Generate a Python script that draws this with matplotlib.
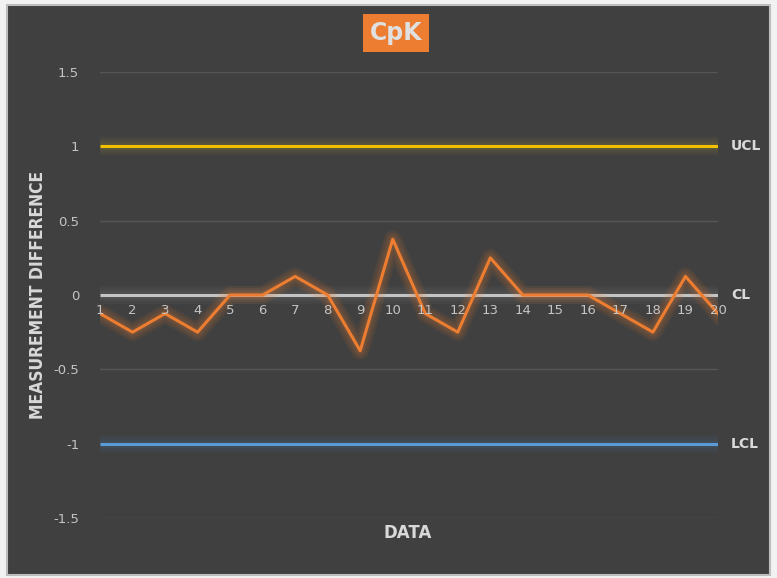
import matplotlib.pyplot as plt
import matplotlib.patheffects as pe
from matplotlib.patches import Rectangle

# data
samples = list(range(1, 21))
diff = [-0.125, -0.25, -0.125, -0.25, 0, 0, 0.125, 0, -0.375, 0.375,
        -0.125, -0.25, 0.25, 0, 0, 0, -0.125, -0.25, 0.125, -0.125]
ucl = 1.0
cl = 0.0
lcl = -1.0
yticks = [-1.5, -1, -0.5, 0, 0.5, 1, 1.5]
ytick_labels = ['-1.5', '-1', '-0.5', '0', '0.5', '1', '1.5']

W, H = 777, 578
fig = plt.figure(figsize=(W / 100, H / 100), dpi=100)
fig.patch.set_facecolor('#f2f2f2')
bg = Rectangle((7 / W, 3 / H), 763 / W, 570 / H, transform=fig.transFigure,
               facecolor='#404040', edgecolor='#bdbdbd', lw=1.5, zorder=-10)
fig.patches.append(bg)

ax = fig.add_axes([100 / W, 1 - 518 / H, 618 / W, 446 / H])
ax.set_facecolor('none')
ax.set_zorder(5)
ax.set_xlim(1, 20)
ax.set_ylim(-1.5, 1.5)

for y in [1.5, 0.5, -0.5, -1.5]:
    ax.axhline(y, color='#555555', lw=1, zorder=1)


def glow(c, a=0.07):
    # soft halo: a few wide, faint strokes under the line
    return [pe.Stroke(linewidth=w, foreground=c, alpha=a) for w in (13, 10, 7, 5)] + [pe.Normal()]


ax.plot([1, 20], [ucl, ucl], color='#f2c200', lw=2.2, zorder=3, path_effects=glow('#b8a030', 0.06), solid_capstyle='butt')
ax.plot([1, 20], [cl, cl], color='#c4c4c4', lw=2.2, zorder=3, path_effects=glow('#8a8a8a', 0.06), solid_capstyle='butt')
ax.plot([1, 20], [lcl, lcl], color='#5b9bd5', lw=2.2, zorder=3, path_effects=glow('#4a7aaa', 0.06), solid_capstyle='butt')
ax.plot(samples, diff, color='#ed7d31', lw=2.2, zorder=4, path_effects=glow('#ed7d31', 0.08))

for s in ax.spines.values():
    s.set_visible(False)
ax.set_yticks(yticks)
ax.set_yticklabels(ytick_labels)
ax.tick_params(axis='y', length=0, pad=15, colors='#c4c4c4', labelsize=9.5)
ax.set_xticks([])
for s in samples:
    ax.text(s, -0.105, str(s), ha='center', va='center', color='#c4c4c4', fontsize=9.5, zorder=5)

# labels on right
for y, t in [(ucl, 'UCL'), (cl, 'CL'), (lcl, 'LCL')]:
    ax.text(20.4, y, t, ha='left', va='center', color='#d9d9d9', fontsize=10, fontweight='bold')

fig.text(396 / W, 1 - 33 / H, 'CpK', ha='center', va='center', color='#e0e0e0', fontsize=17,
         fontweight='bold', bbox=dict(boxstyle='square,pad=0.28', facecolor='#ed7d31', edgecolor='none'))
fig.text(408 / W, 1 - 533 / H, 'DATA', ha='center', va='center', color='#d9d9d9', fontsize=12, fontweight='bold')
fig.text(38 / W, 1 - 295 / H, 'MEASUREMENT DIFFERENCE', ha='center', va='center', rotation=90,
         color='#d9d9d9', fontsize=12.5, fontweight='bold', fontstretch='condensed')

fig.savefig('out.png', dpi=100)
